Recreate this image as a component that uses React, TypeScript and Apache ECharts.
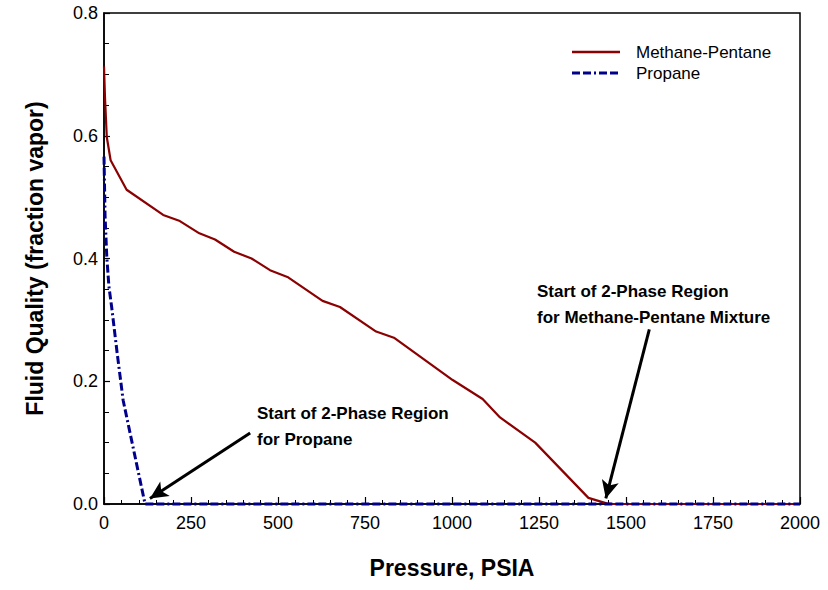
import React, { useEffect, useRef } from "react";
import * as echarts from "echarts";

// Pressure (psia) vs. fluid quality (fraction vapor)
const methanePentane: [number, number][] = [
  [0, 0.713], [3, 0.66], [8, 0.598], [19, 0.56], [65, 0.512], [170, 0.471],
  [218, 0.461], [274, 0.441], [319, 0.431], [374, 0.411], [424, 0.4],
  [477, 0.381], [527, 0.37], [628, 0.331], [678, 0.321], [782, 0.281],
  [833, 0.271], [1002, 0.202], [1088, 0.171], [1138, 0.141], [1239, 0.1],
  [1392, 0.01], [1444, 0.001], [1460, 0], [2000, 0],
];

const propane: [number, number][] = [
  [0, 0.566], [3, 0.47], [8, 0.403], [14, 0.355], [22, 0.321], [38, 0.245],
  [55, 0.169], [118, 0], [2000, 0],
];

const seriesNames = ["Methane-Pentane", "Propane"];

const xTicks = { min: 0, max: 2000, interval: 250 };
const yTicks = { min: 0, max: 0.8, interval: 0.2 };

// Annotation arrows: [tail, head] in data coordinates
const propaneArrow: [number, number][] = [[420, 0.1157], [132, 0.009]];
const mixtureArrow: [number, number][] = [[1567, 0.2846], [1442, 0.009]];

const propaneNote = "Start of 2-Phase Region\nfor Propane";
const mixtureNote = "Start of 2-Phase Region\nfor Methane-Pentane Mixture";

const FONT = "Arial, 'Liberation Sans', Helvetica, sans-serif";
const RED = "#8b0000";
const NAVY = "#00008b";
const PROPANE_DASH = [8, 3, 8, 3, 2, 3];

export default function App() {
  const ref = useRef<HTMLDivElement>(null);

  useEffect(() => {
    if (!ref.current) return;
    const chart = echarts.init(ref.current, null, { renderer: "svg" });

    const arrowLine = (pts: [number, number][]) => ({
      silent: true,
      symbol: ["none", "arrow"],
      symbolSize: [13, 18],
      label: { show: false },
      lineStyle: { color: "#000", width: 3, type: "solid" },
      data: [[{ coord: pts[0] }, { coord: pts[1] }]],
    });

    chart.setOption({
      animation: false,
      backgroundColor: "#fff",
      grid: {
        left: 104,
        right: 28,
        top: 13,
        bottom: 86,
        show: true,
        borderColor: "#000",
        borderWidth: 1.5,
        backgroundColor: "transparent",
      },
      xAxis: {
        type: "value",
        ...xTicks,
        name: "Pressure, PSIA",
        nameLocation: "middle",
        nameGap: 52,
        nameTextStyle: { fontFamily: FONT, fontSize: 23, fontWeight: "bold", color: "#000" },
        axisLine: { lineStyle: { color: "#000", width: 1.5 } },
        axisTick: { inside: true, length: 7, lineStyle: { color: "#000", width: 1.2 } },
        minorTick: { show: true, splitNumber: 5, length: 4, lineStyle: { color: "#000", width: 1 } },
        axisLabel: {
          fontFamily: FONT,
          fontSize: 18,
          color: "#000",
          margin: 10,
          formatter: (v: number) => String(v),
        },
        splitLine: { show: false },
      },
      yAxis: {
        type: "value",
        ...yTicks,
        name: "Fluid Quality (fraction vapor)",
        nameLocation: "middle",
        nameGap: 58,
        nameRotate: 90,
        nameTextStyle: { fontFamily: FONT, fontSize: 23, fontWeight: "bold", color: "#000" },
        axisLine: { lineStyle: { color: "#000", width: 1.5 } },
        axisTick: { inside: true, length: 6, lineStyle: { color: "#000", width: 1.2 } },
        minorTick: { show: true, splitNumber: 4, length: 5, lineStyle: { color: "#000", width: 1 } },
        axisLabel: {
          fontFamily: FONT,
          fontSize: 18,
          color: "#000",
          margin: 6,
          formatter: (v: number) => v.toFixed(1),
        },
        splitLine: { show: false },
      },
      series: [
        {
          name: seriesNames[0],
          type: "line",
          data: methanePentane,
          showSymbol: false,
          symbol: "none",
          clip: false,
          lineStyle: { color: RED, width: 2.2 },
          itemStyle: { color: RED },
          z: 3,
          markLine: arrowLine(mixtureArrow),
        },
        {
          name: seriesNames[1],
          type: "line",
          data: propane,
          showSymbol: false,
          symbol: "none",
          clip: false,
          lineStyle: { color: NAVY, width: 3, type: PROPANE_DASH },
          itemStyle: { color: NAVY },
          z: 4,
          markLine: arrowLine(propaneArrow),
        },
      ],
    });

    const noteStyle = {
      fontFamily: FONT,
      fontSize: 17,
      fontWeight: "bold",
      fill: "#000",
      lineHeight: 26,
      align: "left",
      verticalAlign: "top",
    };
    const pA = chart.convertToPixel({ gridIndex: 0 }, [420, 0.168]) as number[];
    const pB = chart.convertToPixel({ gridIndex: 0 }, [1247, 0.368]) as number[];

    // Legend: line samples with their labels
    const legendX = 572;
    const legendY = 52;
    const legendRow = 21;
    const legendItems = seriesNames.flatMap((name, i) => {
      const y = legendY + i * legendRow;
      return [
        {
          type: "line",
          shape: { x1: legendX, y1: y, x2: legendX + 48, y2: y },
          style: {
            stroke: i === 0 ? RED : NAVY,
            lineWidth: i === 0 ? 2.6 : 3,
            lineDash: i === 0 ? null : PROPANE_DASH,
          },
        },
        {
          type: "text",
          x: legendX + 64,
          y,
          style: {
            text: name,
            fontFamily: FONT,
            fontSize: 17,
            fill: "#000",
            align: "left",
            verticalAlign: "middle",
          },
        },
      ];
    });

    chart.setOption({
      graphic: [
        { type: "text", x: 257, y: pA[1], style: { ...noteStyle, text: propaneNote } },
        { type: "text", x: 537, y: pB[1], style: { ...noteStyle, text: mixtureNote } },
        ...legendItems,
      ],
    });

    return () => chart.dispose();
  }, []);

  return (
    <div
      ref={ref}
      style={{ position: "fixed", left: 0, top: 0, width: 828, height: 590, background: "#fff" }}
    />
  );
}
